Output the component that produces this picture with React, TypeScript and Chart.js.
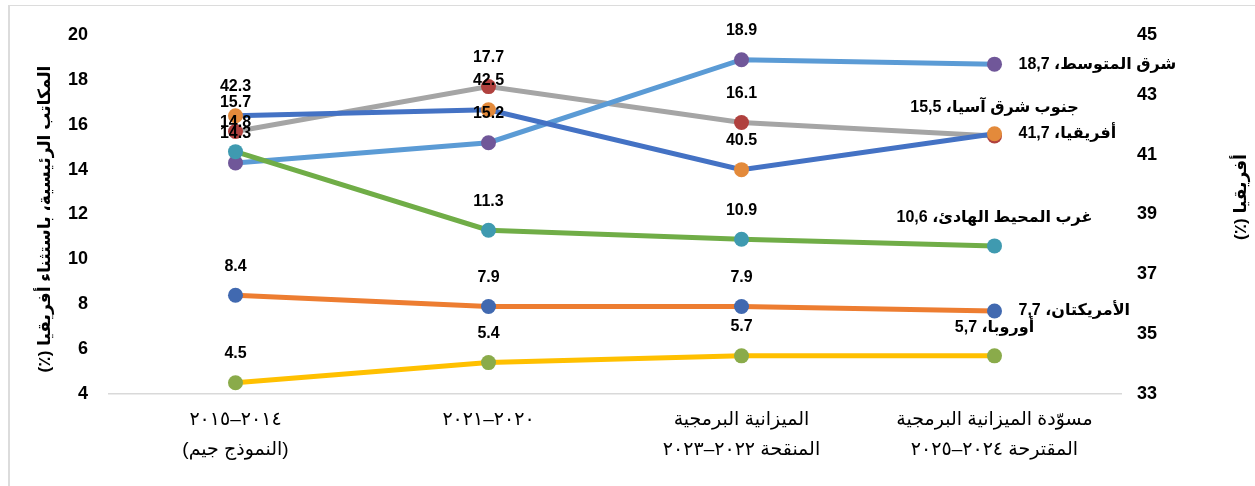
import React, { useEffect, useRef } from 'react';
import { Chart, registerables } from 'chart.js';

Chart.register(...registerables);

// ---- Data ----
const categories: (string | string[])[] = [
  ['٢٠١٤–٢٠١٥', '(النموذج جيم)'],
  '٢٠٢٠–٢٠٢١',
  ['الميزانية البرمجية', 'المنقحة ٢٠٢٢–٢٠٢٣'],
  ['مسوّدة الميزانية البرمجية', 'المقترحة ٢٠٢٤–٢٠٢٥'],
];

const africa = [42.3, 42.5, 40.5, 41.7];
const westernPacific = [14.8, 11.3, 10.9, 10.6];
const easternMediterranean = [14.3, 15.2, 18.9, 18.7];
const europe = [4.5, 5.4, 5.7, 5.7];
const southEastAsia = [15.7, 17.7, 16.1, 15.5];
const americas = [8.4, 7.9, 7.9, 7.7];

const leftTicks = [4, 6, 8, 10, 12, 14, 16, 18, 20];
const rightTicks = [33, 35, 37, 39, 41, 43, 45];

const leftAxisTitle = 'المكاتب الرئيسية، باستثناء أفريقيا (٪)';
const rightAxisTitle = 'أفريقيا (٪)';

type SeriesDef = {
  name: string;
  values: number[];
  axis: 'y' | 'y1';
  line: string;
  marker: string;
  endLabel: 'right' | 'above';
};

const series: SeriesDef[] = [
  { name: 'أفريقيا', values: africa, axis: 'y1', line: '#4472C4', marker: '#E38A3B', endLabel: 'right' },
  { name: 'غرب المحيط الهادئ', values: westernPacific, axis: 'y', line: '#70AD47', marker: '#3F9AB0', endLabel: 'above' },
  { name: 'شرق المتوسط', values: easternMediterranean, axis: 'y', line: '#5B9BD5', marker: '#705799', endLabel: 'right' },
  { name: 'أوروبا', values: europe, axis: 'y', line: '#FFC000', marker: '#8AAB4A', endLabel: 'above' },
  { name: 'جنوب شرق آسيا', values: southEastAsia, axis: 'y', line: '#A5A5A5', marker: '#B0413E', endLabel: 'above' },
  { name: 'الأمريكتان', values: americas, axis: 'y', line: '#ED7D31', marker: '#4169B0', endLabel: 'right' },
];

const FONT = "'Liberation Sans', 'DejaVu Sans', Arial, sans-serif";

const labelPlugin = {
  id: 'labelPlugin',
  afterDatasetsDraw(chart: any) {
    const ctx = chart.ctx as CanvasRenderingContext2D;
    ctx.save();
    (ctx as any).direction = 'rtl';
    ctx.fillStyle = '#000';
    ctx.textBaseline = 'middle';
    series.forEach((s, i) => {
      const meta = chart.getDatasetMeta(i);
      const last = meta.data.length - 1;
      meta.data.forEach((pt: any, j: number) => {
        const v = s.values[j];
        ctx.font = `bold 16px ${FONT}`;
        if (j < last) {
          ctx.textAlign = 'center';
          ctx.fillText(v.toFixed(1), pt.x, pt.y - 29);
        } else {
          const txt = `${s.name}، ${v.toFixed(1).replace('.', ',')}`;
          if (s.endLabel === 'right') {
            ctx.textAlign = 'left';
            ctx.fillText(txt, pt.x + 24, pt.y);
          } else {
            ctx.textAlign = 'center';
            ctx.fillText(txt, pt.x, pt.y - 28);
          }
        }
      });
    });
    ctx.restore();
  },
  afterDraw(chart: any) {
    const ctx = chart.ctx as CanvasRenderingContext2D;
    ctx.save();
    (ctx as any).direction = 'rtl';
    ctx.fillStyle = '#000';
    ctx.font = `bold 17px ${FONT}`;
    ctx.textAlign = 'center';
    ctx.textBaseline = 'middle';
    ctx.save();
    ctx.translate(45, 219);
    ctx.rotate(-Math.PI / 2);
    ctx.fillText(leftAxisTitle, 0, 0);
    ctx.restore();
    ctx.save();
    ctx.translate(1241, 197);
    ctx.rotate(-Math.PI / 2);
    ctx.fillText(rightAxisTitle, 0, 0);
    ctx.restore();
    ctx.restore();
  },
};

export default function App() {
  const canvasRef = useRef<HTMLCanvasElement | null>(null);

  useEffect(() => {
    if (!canvasRef.current) return;
    const chart = new Chart(canvasRef.current, {
      type: 'line',
      data: {
        labels: categories as any,
        datasets: series.map((s) => ({
          label: s.name,
          data: s.values,
          yAxisID: s.axis,
          borderColor: s.line,
          backgroundColor: s.marker,
          borderWidth: 5,
          pointRadius: 7.5,
          pointBackgroundColor: s.marker,
          pointBorderColor: s.marker,
          pointBorderWidth: 0,
          tension: 0,
          fill: false,
        })),
      },
      options: {
        responsive: false,
        animation: false,
        devicePixelRatio: 1,
        layout: { padding: { top: 35, left: 0, right: 0, bottom: 0 } },
        plugins: {
          legend: { display: false },
          tooltip: { enabled: false },
          title: { display: false },
        },
        scales: {
          x: {
            type: 'category',
            offset: true,
            grid: { display: false, drawTicks: false },
            border: { display: true, color: '#D9D9D9', width: 1.5 },
            ticks: {
              color: '#000',
              padding: 11,
              maxRotation: 0,
              autoSkip: false,
              font: { family: FONT, size: 19, lineHeight: 1.58 },
            },
            afterFit: (scale: any) => {
              scale.height = 92;
            },
          },
          y: {
            position: 'left',
            min: leftTicks[0],
            max: leftTicks[leftTicks.length - 1],
            grid: { display: false, drawTicks: false },
            border: { display: false },
            ticks: {
              stepSize: leftTicks[1] - leftTicks[0],
              color: '#000',
              padding: 21,
              font: { family: FONT, size: 18, weight: 'bold' },
            },
            afterFit: (scale: any) => {
              scale.width = 109;
            },
          },
          y1: {
            position: 'right',
            min: rightTicks[0],
            max: rightTicks[rightTicks.length - 1],
            grid: { display: false, drawTicks: false },
            border: { display: false },
            ticks: {
              stepSize: rightTicks[1] - rightTicks[0],
              color: '#000',
              padding: 16,
              font: { family: FONT, size: 18, weight: 'bold' },
            },
            afterFit: (scale: any) => {
              scale.width = 134;
            },
          },
        },
      } as any,
      plugins: [labelPlugin],
    });
    return () => chart.destroy();
  }, []);

  return (
    <div style={{ position: 'fixed', left: 0, top: 0, width: 1255, height: 486, background: '#fff' }}>
      <div
        style={{
          position: 'absolute',
          left: 8,
          top: 5,
          width: 1260,
          height: 490,
          borderLeft: '2px solid #DCDCDC',
          borderTop: '1px solid #DCDCDC',
          boxSizing: 'border-box',
        }}
      />
      <canvas
        ref={canvasRef}
        width={1255}
        height={486}
        dir="rtl"
        style={{ position: 'absolute', left: 0, top: 0, width: 1255, height: 486 }}
      />
    </div>
  );
}
